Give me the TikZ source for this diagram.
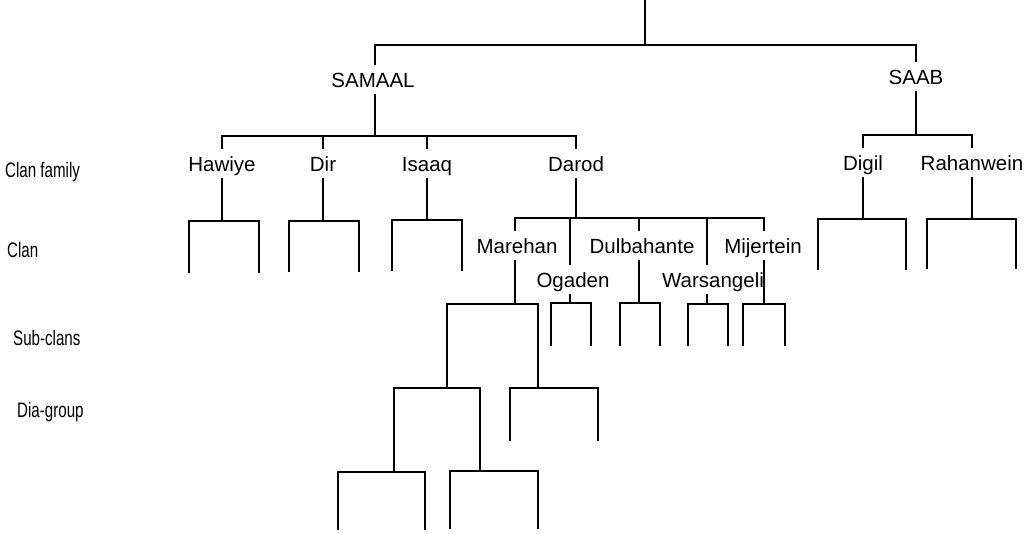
\documentclass[tikz,border=0pt]{standalone}
\usepackage{fontspec}
\setmainfont{Liberation Sans}
\newfontfamily\narrowfont[FakeStretch=0.72]{Liberation Sans}
\tikzset{
  lbl/.style={font=\fontsize{20.5}{24}\selectfont, anchor=base, inner xsep=0pt, inner ysep=7pt, text height=14.5pt, text depth=0pt},
  lvl/.style={font=\narrowfont\fontsize{21}{24}\selectfont, anchor=base west, inner sep=0pt},
  ln/.style={line width=2.2pt, line join=miter},
}
\newcommand{\brk}[5]{%
  \coordinate (#1-l) at (#2,#4); \coordinate (#1-r) at (#3,#4);
  \coordinate (#1-lb) at (#2,#5); \coordinate (#1-rb) at (#3,#5);
  \draw[ln] (#1-lb) -- (#1-l) -- (#1-r) -- (#1-rb);}
\begin{document}
\begin{tikzpicture}[x=1pt,y=-1pt]
\useasboundingbox (0,0) rectangle (1025,533);
% top
\coordinate (top) at (645,0);
\coordinate (b0) at (645,45);
\coordinate (b1) at (375,136);
\node[lbl] (sam) at (373,87) {SAMAAL};
\node[lbl] (saab) at (916,84) {SAAB};
\draw[ln] (top) -- (b0);
\draw[ln] (sam.north -| b1) -- (b1 |- b0) -- (saab.north |- b0) -- (saab.north);
% clan families
\node[lbl] (haw) at (222,171) {Hawiye};
\node[lbl] (dir) at (323,171) {Dir};
\node[lbl] (isa) at (427,171) {Isaaq};
\node[lbl] (dar) at (576,171) {Darod};
\draw[ln] (sam.south -| b1) -- (b1);
\draw[ln] (haw.north) -- (haw.north |- b1) -- (dar.north |- b1) -- (dar.north);
\draw[ln] (dir.north) -- (dir.north |- b1);
\draw[ln] (isa.north) -- (isa.north |- b1);
\coordinate (b1s) at (916,135);
\node[lbl] (dig) at (863,170) {Digil};
\node[lbl] (rah) at (972,170) {Rahanwein};
\draw[ln] (saab.south) -- (b1s);
\draw[ln] (dig.north) -- (dig.north |- b1s) -- (rah.north |- b1s) -- (rah.north);
% clan brackets
\brk{hb}{189}{259}{221}{273}
\draw[ln] (haw.south) -- (haw.south |- hb-l);
\brk{db}{289}{359}{221}{272}
\draw[ln] (dir.south) -- (dir.south |- db-l);
\brk{ib}{392}{462}{220}{271}
\draw[ln] (isa.south) -- (isa.south |- ib-l);
\brk{gb}{818}{906}{219}{270}
\draw[ln] (dig.south) -- (dig.south |- gb-l);
\brk{rb}{927}{1016}{219}{269}
\draw[ln] (rah.south) -- (rah.south |- rb-l);
% Darod clans
\coordinate (d-mar) at (515,218);
\coordinate (d-oga) at (570,218);
\coordinate (d-dul) at (639,218);
\coordinate (d-war) at (707,218);
\coordinate (d-mij) at (764,218);
\node[lbl] (mar) at (517,253) {Marehan};
\node[lbl] (oga) at (573,287) {Ogaden};
\node[lbl] (dul) at (642,253) {Dulbahante};
\node[lbl] (war) at (713,287) {Warsangeli};
\node[lbl] (mij) at (763,253) {Mijertein};
\draw[ln] (dar.south) -- (dar.south |- d-mar);
\draw[ln] (d-mar |- mar.north) -- (d-mar) -- (d-mij) -- (d-mij |- mij.north);
\draw[ln] (d-oga) -- (d-oga |- oga.north);
\draw[ln] (d-dul) -- (d-dul |- dul.north);
\draw[ln] (d-war) -- (d-war |- war.north);
% sub-clans
\brk{mb}{447}{538}{304}{388}
\draw[ln] (d-mar |- mar.south) -- (d-mar |- mb-l);
\brk{ob}{551}{591}{303}{346}
\draw[ln] (d-oga |- oga.south) -- (d-oga |- ob-l);
\brk{ub}{620}{660}{303}{346}
\draw[ln] (d-dul |- dul.south) -- (d-dul |- ub-l);
\brk{wb}{688}{728}{304}{346}
\draw[ln] (d-war |- war.south) -- (d-war |- wb-l);
\brk{jb}{743}{785}{304}{346}
\draw[ln] (d-mij |- mij.south) -- (d-mij |- jb-l);
% dia-groups
\brk{m1}{394}{480}{388}{472}
\brk{m2}{510}{598}{388}{441}
\brk{m11}{338}{425}{472}{530}
\brk{m12}{450}{538}{471}{529}
% level labels
\node[lvl] (lcf) at (5,177) {Clan family};
\node[lvl] (lcl) at (7,257) {Clan};
\node[lvl] (lsc) at (13,345) {Sub-clans};
\node[lvl] (ldg) at (17,417) {Dia-group};
\end{tikzpicture}
\end{document}
